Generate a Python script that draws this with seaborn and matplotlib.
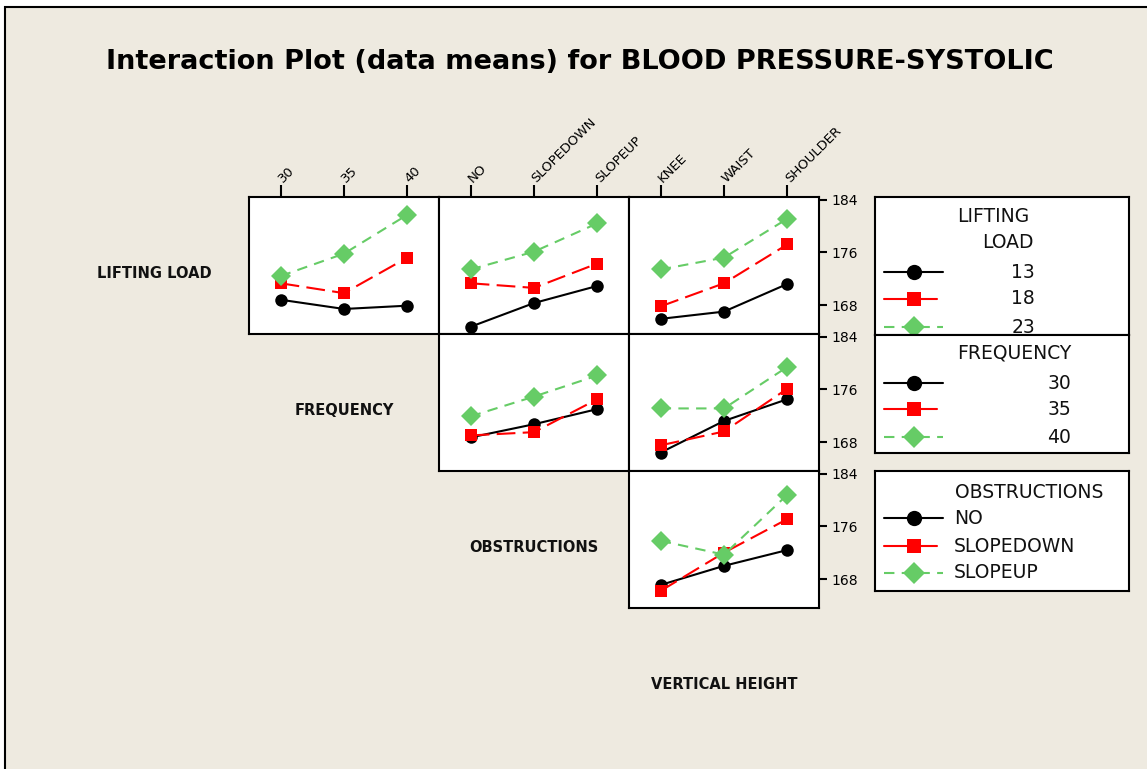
import matplotlib
matplotlib.use("Agg")
import matplotlib.pyplot as plt
from matplotlib.patches import Rectangle
from matplotlib.lines import Line2D
import seaborn as sns
import pandas as pd

# ---------------- data ----------------
factor_names = ["LIFTING LOAD", "FREQUENCY", "OBSTRUCTIONS", "VERTICAL HEIGHT"]
load_levels = ["13", "18", "23"]
freq_levels = ["30", "35", "40"]
obst_levels = ["NO", "SLOPEDOWN", "SLOPEUP"]
height_levels = ["KNEE", "WAIST", "SHOULDER"]

# means: rows = trace levels, cols = x-axis levels
load_by_freq = [[168.8, 167.4, 167.9], [171.3, 169.8, 175.2], [172.4, 175.8, 181.7]]
load_by_obst = [[164.7, 168.3, 170.9], [171.3, 170.6, 174.3], [173.4, 176.1, 180.4]]
load_by_height = [[165.9, 167.0, 171.2], [167.8, 171.3, 177.2], [173.4, 175.2, 181.1]]
freq_by_obst = [[168.7, 170.7, 173.0], [169.0, 169.5, 174.5], [171.9, 174.9, 178.1]]
freq_by_height = [[166.4, 171.2, 174.5], [167.5, 169.6, 176.1], [173.1, 173.1, 179.4]]
obst_by_height = [[167.1, 170.0, 172.4], [166.2, 172.0, 177.1], [173.8, 171.7, 180.8]]

y_ticks = [168, 176, 184]

# ---------------- styling ----------------
W, H = 1147, 769
BG = "#EEEAE0"
colors = ["#000000", "#FF0000", "#66CC66"]
marker_list = ["o", "s", "D"]
marker_sizes = [9.0, 8.0, 9.8]
legend_marker_sizes = [11, 9.5, 11.5]
dash_list = ["", (9, 3.5), (5, 3.5)]

sns.set_theme(style="white")
plt.rcParams["font.family"] = ["DejaVu Sans"]
plt.rcParams["text.color"] = "black"
plt.rcParams["xtick.color"] = "black"
plt.rcParams["ytick.color"] = "black"

fig = plt.figure(figsize=(W / 100, H / 100), dpi=100)
fig.patch.set_facecolor("white")
bg = Rectangle((5 / W, -0.1), 1.2, (H - 7) / H + 0.1,
               transform=fig.transFigure, facecolor=BG,
               edgecolor="black", linewidth=1.5, zorder=-10)
fig.patches.append(bg)


def px_axes(x0, y0, x1, y1):
    return fig.add_axes([x0 / W, 1 - y1 / H, (x1 - x0) / W, (y1 - y0) / H])


levels_all = [load_levels, freq_levels, obst_levels, height_levels]
panels = {
    (0, 1): load_by_freq,
    (0, 2): load_by_obst,
    (0, 3): load_by_height,
    (1, 2): freq_by_obst,
    (1, 3): freq_by_height,
    (2, 3): obst_by_height,
}

COL0 = 59
CW = 190
ROW0 = 197
RH = 137
YLIM = (163.6, 184.4)

for (r, c), means in panels.items():
    x0 = COL0 + c * CW
    y0 = ROW0 + r * RH
    ax = px_axes(x0, y0, x0 + CW, y0 + RH)
    ax.set_facecolor("white")
    trace_levels = levels_all[r]
    x_levels = levels_all[c]
    rows = []
    for ti, tl in enumerate(trace_levels):
        for xi, xl in enumerate(x_levels):
            rows.append({"pos": xi, "mean": means[ti][xi], "level": tl})
    df = pd.DataFrame(rows)
    for ti, tl in enumerate(trace_levels):
        sub = df[df["level"] == tl]
        sns.lineplot(data=sub, x="pos", y="mean", color=colors[ti],
                     marker=marker_list[ti], markersize=marker_sizes[ti],
                     markeredgewidth=0, linewidth=1.5, errorbar=None,
                     ax=ax, legend=False)
        line = ax.lines[-1]
        if dash_list[ti]:
            line.set_dashes(dash_list[ti])
    ax.set_xlim(-0.5, 2.5)
    ax.set_ylim(*YLIM)
    ax.set_xlabel("")
    ax.set_ylabel("")
    for s in ax.spines.values():
        s.set_linewidth(1.5)
        s.set_color("black")
        s.set_visible(True)
    ax.set_xticks(range(len(x_levels)))
    if r == 0:
        ax.xaxis.tick_top()
        ax.set_xticklabels(x_levels, rotation=45, ha="left", va="center",
                           rotation_mode="anchor", fontsize=9.5)
        ax.tick_params(axis="x", top=True, bottom=False, direction="out",
                       length=9, width=1.5, color="black", pad=3)
    else:
        ax.tick_params(axis="x", top=False, bottom=False,
                       labeltop=False, labelbottom=False)
    if c == 3:
        ax.yaxis.tick_right()
        ax.set_yticks(y_ticks)
        ax.set_yticklabels([str(v) for v in y_ticks], fontsize=10)
        ax.tick_params(axis="y", right=True, left=False, direction="out",
                       length=6, width=1.5, color="black", pad=3)
    else:
        ax.set_yticks(y_ticks)
        ax.tick_params(axis="y", left=False, right=False,
                       labelleft=False, labelright=False)

# diagonal factor labels
for i, name in enumerate(factor_names):
    cx = COL0 + i * CW + CW / 2
    cy = ROW0 + i * RH + RH / 2 + 8
    fig.text(cx / W, 1 - cy / H, name, ha="center", va="center",
             fontsize=10.5, fontweight="bold", color="#111111")

# title
fig.text(580 / W, 1 - 62 / H,
         "Interaction Plot (data means) for BLOOD PRESSURE-SYSTOLIC",
         ha="center", va="center", fontsize=19.5, fontweight="bold",
         color="black")

# legends
legend_specs = [
    (197, 335, ["LIFTING", "LOAD"], load_levels, "right", [(957, 216), (1034, 243)], [272, 299, 327], 1035),
    (335, 453, ["FREQUENCY"], freq_levels, "right", [(1071, 353)], [383, 409, 437], 1071),
    (471, 591, ["OBSTRUCTIONS"], obst_levels, "left", [(955, 492)], [518, 546, 573], 954),
]
for (ly0, ly1, titles, labels, align, tpos, rows_y, lab_x) in legend_specs:
    lax = px_axes(875, ly0, 1129, ly1)
    lax.set_xlim(875, 1129)
    lax.set_ylim(ly1, ly0)
    lax.set_facecolor("white")
    lax.set_xticks([])
    lax.set_yticks([])
    for s in lax.spines.values():
        s.set_linewidth(1.5)
        s.set_color("black")
    for k, t in enumerate(titles):
        tx, ty = tpos[k]
        if len(titles) == 2:
            ha = "left" if k == 0 else "right"
        else:
            ha = "right" if align == "right" else "left"
        lax.text(tx, ty, t, ha=ha, va="center", fontsize=13.5, color="#111111", clip_on=True)
    for k, lab in enumerate(labels):
        yy = rows_y[k]
        x_end = 943 if k != 1 else 937
        ln = Line2D([884, x_end], [yy, yy], color=colors[k], linewidth=1.5,
                    marker=None, clip_on=True)
        if k == 2:
            ln.set_dashes(dash_list[k])
        lax.add_line(ln)
        lax.plot([914], [yy], marker=marker_list[k], color=colors[k],
                 markersize=legend_marker_sizes[k], markeredgewidth=0, clip_on=True)
        lax.text(lab_x, yy, lab, ha="right" if align == "right" else "left",
                 va="center", fontsize=13.5, color="#111111", clip_on=True)

fig.savefig("out.png", dpi=100, facecolor=fig.get_facecolor())
